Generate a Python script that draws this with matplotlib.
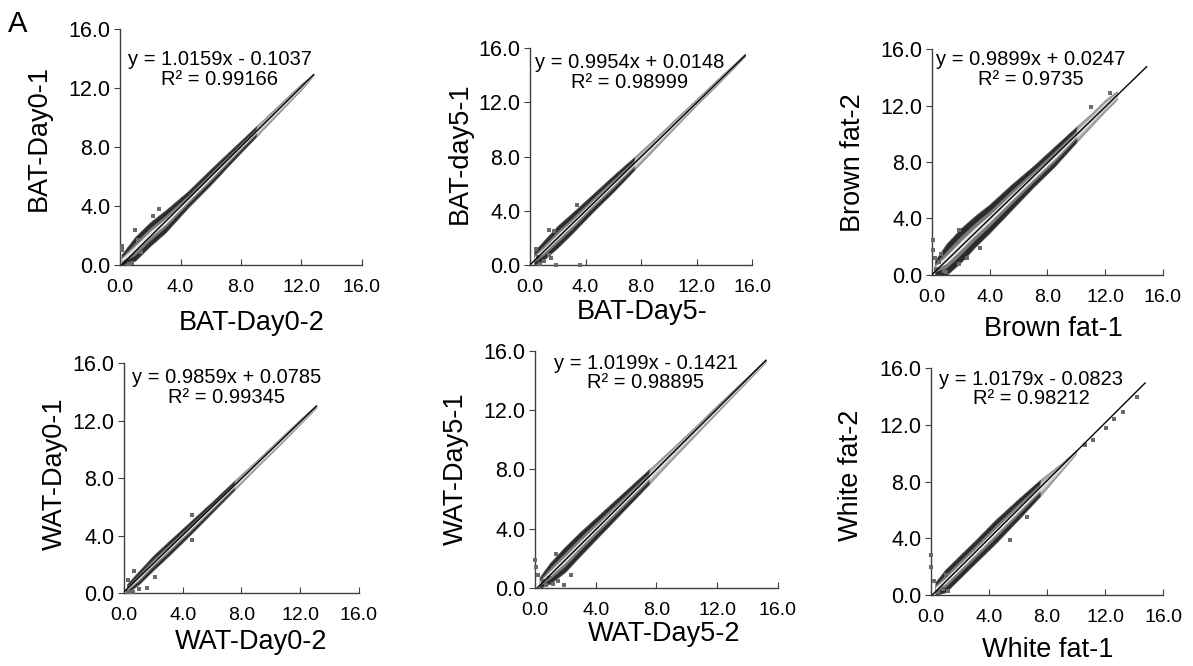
import numpy as np
import matplotlib
matplotlib.use("Agg")
from matplotlib import pyplot as plt

plt.rcParams['font.family'] = ['Liberation Sans', 'DejaVu Sans']

# panel titles (axis labels)
x_labels = ["BAT-Day0-2", "BAT-Day5-", "Brown fat-1",
            "WAT-Day0-2", "WAT-Day5-2", "White fat-1"]
y_labels = ["BAT-Day0-1", "BAT-day5-1", "Brown fat-2",
            "WAT-Day0-1", "WAT-Day5-1", "White fat-2"]

# trend lines shown on the chart
slopes = [1.0159, 0.9954, 0.9899, 0.9859, 1.0199, 1.0179]
intercepts = [-0.1037, 0.0148, 0.0247, 0.0785, -0.1421, -0.0823]
r2_text = ["0.99166", "0.98999", "0.9735", "0.99345", "0.98895", "0.98212"]
fit_xmax = [12.8, 15.5, 14.87, 13.1, 15.2, 14.76]

# extent of each point cloud
cloud_x = [
    [0.1, 1.0, 2.0, 3.0, 4.5, 6.0, 7.5, 9.0, 10.5, 12.0, 12.8],
    [0.3, 1.0, 2.0, 3.0, 4.5, 6.0, 7.5, 9.0, 10.5, 12.0, 13.5, 15.5],
    [0.2, 1.0, 2.0, 3.0, 4.0, 5.5, 7.0, 8.5, 10.0, 11.0, 12.0, 12.8],
    [0.2, 1.0, 2.0, 3.0, 4.5, 6.0, 7.5, 9.0, 10.5, 12.0, 13.1],
    [0.3, 1.0, 2.0, 3.0, 4.5, 6.0, 7.5, 9.0, 10.5, 12.0, 13.5, 15.2],
    [0.3, 1.0, 2.0, 3.0, 4.5, 6.0, 7.5, 9.0, 10.0],
]
cloud_hi = [
    [0.7, 1.9, 2.9, 3.7, 5.0, 6.5, 7.95, 9.4, 10.85, 12.3, 12.95],
    [1.0, 1.8, 2.9, 3.8, 5.2, 6.6, 7.95, 9.35, 10.8, 12.25, 13.7, 15.6],
    [1.0, 2.2, 3.3, 4.2, 5.0, 6.4, 7.7, 9.1, 10.5, 11.4, 12.4, 13.0],
    [0.6, 1.5, 2.6, 3.55, 4.95, 6.35, 7.8, 9.2, 10.65, 12.1, 13.1],
    [0.7, 1.7, 2.8, 3.8, 5.2, 6.6, 8.0, 9.4, 10.85, 12.35, 13.8, 15.45],
    [0.9, 1.8, 2.8, 3.8, 5.35, 6.75, 8.1, 9.3, 10.2],
]
cloud_lo = [
    [0.0, 0.3, 1.3, 2.2, 3.9, 5.45, 7.1, 8.7, 10.3, 11.9, 12.85],
    [0.0, 0.4, 1.3, 2.3, 3.9, 5.4, 7.0, 8.6, 10.2, 11.8, 13.3, 15.4],
    [0.0, 0.0, 0.9, 2.0, 3.0, 4.6, 6.2, 7.7, 9.4, 10.5, 11.6, 12.4],
    [0.0, 0.6, 1.6, 2.55, 4.05, 5.6, 7.15, 8.7, 10.2, 11.75, 12.9],
    [0.0, 0.3, 1.1, 2.2, 3.8, 5.4, 7.0, 8.65, 10.25, 11.85, 13.45, 15.25],
    [0.0, 0.2, 1.2, 2.2, 3.7, 5.3, 6.95, 8.75, 9.95],
]
dense_end = [9.0, 7.5, 10.0, 7.5, 7.5, 7.5]

# scattered points outside the main cloud
out_x = [
    [0.1, 0.15, 0.6, 0.8, 1.0, 1.2, 1.4, 2.2, 2.6],
    [0.6, 0.7, 1.0, 1.4, 1.5, 1.9, 3.6, 1.4, 1.7, 3.4, 0.4],
    [0.05, 0.1, 0.2, 0.3, 0.5, 0.6, 0.8, 1.0, 1.9, 1.9, 3.3, 2.4, 11.0, 12.3],
    [0.3, 0.45, 0.6, 0.3, 1.0, 1.55, 2.1, 0.7, 4.6, 4.6],
    [0.0, 0.05, 0.2, 0.5, 0.7, 0.9, 1.2, 1.5, 1.9, 1.4, 2.4],
    [0.0, 0.0, 0.2, 0.5, 0.8, 1.2, 1.0, 5.45, 6.6, 10.6, 11.2, 12.1, 12.6, 13.25, 14.2],
]
out_y = [
    [1.0, 1.3, 0.05, 0.15, 2.4, 1.7, 0.9, 3.3, 3.8],
    [0.6, 0.1, 0.3, 0.75, 0.5, 0.0, 0.0, 2.6, 2.5, 4.4, 1.2],
    [2.5, 1.8, 1.2, 0.4, 0.9, 1.5, 0.3, 0.2, 3.2, 0.8, 1.9, 1.2, 11.9, 12.9],
    [0.05, 0.05, 0.05, 0.9, 0.3, 0.35, 1.1, 1.5, 5.4, 3.7],
    [1.9, 1.45, 0.9, 0.5, 0.2, 0.65, 0.3, 0.45, 0.2, 2.3, 0.9],
    [2.8, 2.0, 1.0, 0.2, 0.4, 0.3, 1.4, 3.9, 5.5, 10.6, 10.9, 11.75, 12.4, 12.9, 13.97],
]

ticks = [0, 4, 8, 12, 16]

# axes boxes in figure fraction
boxes = [
    [0.1006, 0.6021, 0.2028, 0.3544],
    [0.4443, 0.6021, 0.1861, 0.3258],
    [0.7812, 0.5871, 0.1936, 0.3393],
    [0.1039, 0.1096, 0.1970, 0.3453],
    [0.4484, 0.1171, 0.2037, 0.3559],
    [0.7804, 0.1066, 0.1945, 0.3408],
]
# equation block centre (data coords)
eq_pos = [(6.6, 13.25), (7.2, 14.2), (6.85, 14.55),
          (7.0, 14.3), (7.3, 14.5), (6.9, 14.5)]
# label positions (axes fraction)
xlab_pos = [(0.545, -0.19), (0.505, -0.155), (0.528, -0.18),
            (0.54, -0.155), (0.531, -0.14), (0.504, -0.185)]
ylab_pos = [(-0.281, 0.538), (-0.257, 0.516), (-0.286, 0.496),
            (-0.238, 0.517), (-0.272, 0.502), (-0.289, 0.529)]

fig = plt.figure(figsize=(11.93, 6.66), dpi=100)
fig.text(0.0067, 0.952, "A", fontsize=21, ha='left', va='baseline')

for i in range(6):
    ax = fig.add_axes(boxes[i])
    cx = np.array(cloud_x[i])
    lo = np.array(cloud_lo[i])
    hi = np.array(cloud_hi[i])
    mid = (lo + hi) / 2
    half = (hi - lo) / 2

    dense = cx <= dense_end[i]
    sparse = cx >= dense_end[i]
    ax.fill_between(cx, lo, hi, where=sparse, color='#a4a4a4', lw=0.6, ec='#8a8a8a')
    ax.fill_between(cx, lo, hi, where=dense, color='#2b2b2b', lw=0.6, ec='#505050')
    ax.fill_between(cx, mid - 0.55 * half, mid + 0.55 * half, where=dense,
                    color='#7a7a7a', lw=0)
    ax.fill_between(cx, mid - 0.55 * half, mid + 0.55 * half, where=sparse,
                    color='#cfcfcf', lw=0)
    ax.fill_between(cx, mid - 0.25 * half, mid + 0.25 * half,
                    color='#e6e6e6', lw=0)
    ax.scatter(out_x[i], out_y[i], s=5, marker='s', color='#6a6a6a', lw=0,
               clip_on=False, zorder=3)

    a, b = slopes[i], intercepts[i]
    x0 = max(0.0, -b / a)
    fx = np.array([x0, fit_xmax[i]])
    ax.plot(fx, a * fx + b, color='black', lw=1.0, zorder=4)

    sign = '+' if b >= 0 else '-'
    ex, ey = eq_pos[i]
    eq = "y = %.4fx %s %.4f\nR\u00b2 = %s" % (a, sign, abs(b), r2_text[i])
    ax.text(ex, ey, eq, ha='center', va='center', multialignment='center',
            fontsize=14.5, linespacing=1.02, clip_on=False)

    ax.set_xlim(0, 16)
    ax.set_ylim(0, 16)
    ax.set_xticks(ticks)
    ax.set_yticks(ticks)
    ax.set_xticklabels(["%.1f" % t for t in ticks])
    ax.set_yticklabels(["%.1f" % t for t in ticks])
    ax.tick_params(axis='x', direction='in', length=4, labelsize=14, pad=10,
                   color='#404040')
    ax.tick_params(axis='y', direction='out', length=4, labelsize=15.5, pad=3,
                   color='#404040')
    for s in ['top', 'right']:
        ax.spines[s].set_visible(False)
    for s in ['left', 'bottom']:
        ax.spines[s].set_color('#404040')
        ax.spines[s].set_linewidth(1.0)

    ax.set_xlabel(x_labels[i], fontsize=19.5)
    ax.set_ylabel(y_labels[i], fontsize=19.5)
    ax.xaxis.set_label_coords(*xlab_pos[i])
    ax.yaxis.set_label_coords(*ylab_pos[i])

fig.savefig("out.png", dpi=100)
